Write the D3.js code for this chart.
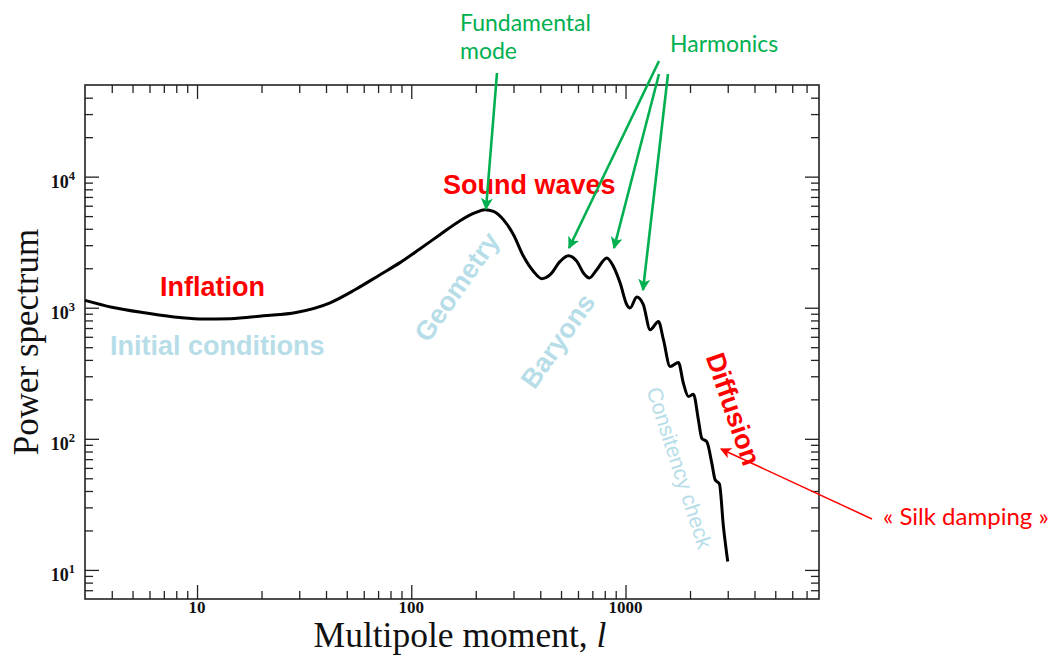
<!DOCTYPE html>
<html><head><meta charset="utf-8">
<script src="https://cdn.jsdelivr.net/npm/d3@7"></script>
<style>body{margin:0;background:#fff}svg{display:block}</style>
</head><body>
<svg id="chart" width="1053" height="657"></svg>
<script>
// ---- data ----
const multipole = [3, 4, 5.8, 8.3, 10.7, 14.3, 20.4, 29, 41.8, 54.6,
  71.5, 88.6, 110, 136, 169, 199, 221, 242, 269,
  300, 334, 372, 407, 445, 495, 541, 593, 636, 678,
  734, 818, 878, 944, 1014, 1050, 1129, 1211, 1303, 1425,
  1503, 1615, 1766, 1862, 1967, 2075, 2188, 2270, 2395, 2529,
  2620, 2743, 2864, 3000];
const powerSpectrum = [1138, 1010, 912, 843, 820, 824, 868, 921, 1091, 1371,
  1786, 2208, 2818, 3605, 4614, 5308, 5598, 5433, 4699,
  3605, 2466, 1892, 1664, 1786, 2255, 2494, 2255, 1841, 1687,
  1950, 2393, 2066, 1545, 1055, 995, 1208, 1055, 679, 785,
  570, 356, 382, 266, 210, 219, 140, 101, 95, 65,
  48.7, 45.3, 21.4, 11.6];
const xMajorTicks = [10, 100, 1000];
const xTickLabels = ["10", "100", "1000"];
const yMajorTicks = [10, 100, 1000, 10000];
const yTickExponents = ["1", "2", "3", "4"];
const xDomain = [3, 8000];
const yDomain = [6, 50000];

// ---- layout ----
const W = 1053, H = 657;
const M = {left: 85, right: 819, top: 85, bottom: 599};
const svg = d3.select("#chart");
const x = d3.scaleLog().domain(xDomain).range([M.left, M.right]);
const y = d3.scaleLog().domain(yDomain).range([M.bottom, M.top]);

const xMinor = x.ticks().filter(v => !xMajorTicks.includes(v) && v > xDomain[0] && v < xDomain[1]);
const yMinor = y.ticks().filter(v => !yMajorTicks.includes(v) && v > yDomain[0] && v < yDomain[1]);

const MAJ = 14, MIN = 8;
function styleAxis(g){ g.select(".domain").remove(); g.selectAll("line").attr("stroke","#222").attr("stroke-width",1.3); g.selectAll("text").remove(); }
svg.append("g").attr("transform",`translate(0,${M.bottom})`).call(d3.axisBottom(x).tickValues(xMinor).tickSize(-MIN)).call(styleAxis);
svg.append("g").attr("transform",`translate(0,${M.bottom})`).call(d3.axisBottom(x).tickValues(xMajorTicks).tickSize(-MAJ)).call(styleAxis);
svg.append("g").attr("transform",`translate(0,${M.top})`).call(d3.axisTop(x).tickValues(xMinor).tickSize(-MIN)).call(styleAxis);
svg.append("g").attr("transform",`translate(0,${M.top})`).call(d3.axisTop(x).tickValues(xMajorTicks).tickSize(-MAJ)).call(styleAxis);
svg.append("g").attr("transform",`translate(${M.left},0)`).call(d3.axisLeft(y).tickValues(yMinor).tickSize(-MIN)).call(styleAxis);
svg.append("g").attr("transform",`translate(${M.left},0)`).call(d3.axisLeft(y).tickValues(yMajorTicks).tickSize(-MAJ)).call(styleAxis);
svg.append("g").attr("transform",`translate(${M.right},0)`).call(d3.axisRight(y).tickValues(yMinor).tickSize(-MIN)).call(styleAxis);
svg.append("g").attr("transform",`translate(${M.right},0)`).call(d3.axisRight(y).tickValues(yMajorTicks).tickSize(-MAJ)).call(styleAxis);

svg.append("rect").attr("x",M.left).attr("y",M.top).attr("width",M.right-M.left).attr("height",M.bottom-M.top)
  .attr("fill","none").attr("stroke","#222").attr("stroke-width",1.6);

// tick labels
const serif = "'Liberation Serif','Times New Roman',serif";
svg.append("g").selectAll("text").data(xMajorTicks).join("text")
  .attr("x", d => x(d)).attr("y", M.bottom + 14).attr("text-anchor","middle")
  .attr("font-family", serif).attr("font-weight","bold").attr("font-size",17).attr("fill","#111")
  .text((d,i) => xTickLabels[i]);
const yl = svg.append("g").selectAll("text").data(yMajorTicks).join("text")
  .attr("x", M.left - 10).attr("y", d => y(d) + 11).attr("text-anchor","end")
  .attr("font-family", serif).attr("font-weight","bold").attr("font-size",18).attr("fill","#111");
yl.append("tspan").text("10");
yl.append("tspan").attr("dy",-8).attr("font-size",12.5).text((d,i) => yTickExponents[i]);

// axis titles
const xt = svg.append("text").attr("x", 460).attr("y", 647).attr("text-anchor","middle")
  .attr("font-family", serif).attr("font-size",35.5).attr("fill","#111");
xt.append("tspan").text("Multipole moment, ");
xt.append("tspan").attr("font-style","italic").text("l");
svg.append("text").attr("transform","translate(38,342) rotate(-90)").attr("text-anchor","middle")
  .attr("font-family", serif).attr("font-size",35).attr("fill","#111").text("Power spectrum");

// curve
const pts = multipole.map((l,i) => [l, powerSpectrum[i]]);
svg.append("path").datum(pts)
  .attr("d", d3.line().x(d => x(d[0])).y(d => y(d[1])).curve(d3.curveMonotoneX))
  .attr("fill","none").attr("stroke","#000").attr("stroke-width",3).attr("stroke-linejoin","round");

// annotations
const RED = "#ff0000", GREEN = "#00b050", LBLUE = "#b7dee8";
const sans = "'Liberation Sans',Arial,Helvetica,sans-serif";
const calib = "Lato,'Open Sans',sans-serif";
const defs = svg.append("defs");
function marker(id, color, size){
  defs.append("marker").attr("id", id).attr("viewBox","0 0 10 10").attr("refX",9).attr("refY",5)
    .attr("markerWidth", size).attr("markerHeight", size).attr("markerUnits","userSpaceOnUse").attr("orient","auto")
    .append("path").attr("d","M0,0 L10,5 L0,10 L2.5,5 Z").attr("fill", color);
}
marker("ag", GREEN, 12);
marker("ar", RED, 11);

function label(txt, px, py, opt){
  const t = svg.append("text").attr("font-family", opt.family || sans).attr("font-size", opt.size)
    .attr("font-weight", opt.weight || "bold").attr("fill", opt.color)
    .attr("text-anchor", opt.anchor || "start");
  if (opt.rot !== undefined) {
    t.attr("transform", `translate(${px},${py}) rotate(${opt.rot})`).attr("dominant-baseline","central").attr("text-anchor","middle");
  } else { t.attr("x", px).attr("y", py); }
  t.text(txt);
  return t;
}
label("Sound waves", 443, 194, {size:27, color:RED});
label("Inflation", 160, 296, {size:27, color:RED});
label("Initial conditions", 110, 355, {size:27, color:LBLUE});
label("Geometry", 457, 287, {size:27, color:LBLUE, rot:-55});
label("Baryons", 558, 341, {size:27, color:LBLUE, rot:-55});
label("Diffusion", 733, 409, {size:27, color:RED, rot:71});
label("Consitency check", 679, 468, {size:21.5, color:LBLUE, weight:"normal", rot:72});
label("Fundamental", 460, 31, {size:23, color:GREEN, family:calib, weight:"normal"});
label("mode", 460, 59, {size:23, color:GREEN, family:calib, weight:"normal"});
label("Harmonics", 670, 52, {size:23, color:GREEN, family:calib, weight:"normal"});
label("« Silk damping »", 883, 525, {size:24, color:RED, family:calib, weight:"normal"});

function arrow(x1,y1,x2,y2,color,w,m){
  svg.append("line").attr("x1",x1).attr("y1",y1).attr("x2",x2).attr("y2",y2)
    .attr("stroke",color).attr("stroke-width",w).attr("marker-end",`url(#${m})`);
}
arrow(497, 73, 486, 209, GREEN, 2.6, "ag");
arrow(659, 61, 569, 248, GREEN, 2.6, "ag");
arrow(659, 74, 614, 248, GREEN, 2.6, "ag");
arrow(668, 74, 643, 290, GREEN, 2.6, "ag");
arrow(872, 519, 721, 449, RED, 1.5, "ar");
</script>
</body></html>
